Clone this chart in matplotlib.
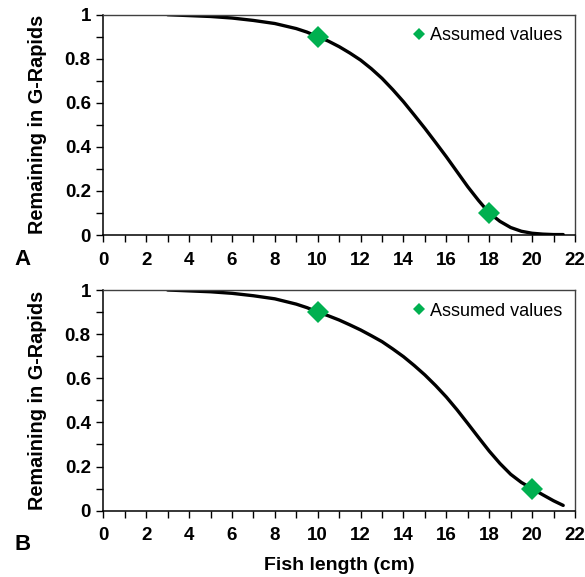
import matplotlib
matplotlib.use("Agg")
import matplotlib.pyplot as plt
from matplotlib.lines import Line2D
from matplotlib.ticker import MultipleLocator

plt.rcParams['font.family'] = ['Liberation Sans', 'DejaVu Sans']

# fitted curves, fish length (cm) vs fraction remaining
length_a = [3, 4, 5, 6, 7, 8, 9, 9.5, 10, 10.5, 11, 11.5, 12, 12.5, 13, 13.5, 14, 14.5,
            15, 15.5, 16, 16.5, 17, 17.5, 18, 18.5, 19, 19.5, 20, 20.5, 21, 21.45]
remain_a = [1.0, 0.996, 0.992, 0.985, 0.974, 0.96, 0.937, 0.921, 0.9, 0.88, 0.855, 0.826,
            0.794, 0.755, 0.711, 0.66, 0.605, 0.545, 0.484, 0.42, 0.355, 0.287, 0.219,
            0.157, 0.1, 0.062, 0.034, 0.017, 0.008, 0.004, 0.002, 0.002]

length_b = [3, 4, 5, 6, 7, 8, 9, 9.5, 10, 10.5, 11, 11.5, 12, 12.5, 13, 13.5, 14, 14.5,
            15, 15.5, 16, 16.5, 17, 17.5, 18, 18.5, 19, 19.5, 20, 20.5, 21, 21.45]
remain_b = [1.0, 0.996, 0.992, 0.985, 0.974, 0.96, 0.936, 0.92, 0.9, 0.883, 0.864, 0.842,
            0.819, 0.793, 0.766, 0.733, 0.698, 0.658, 0.615, 0.567, 0.515, 0.457, 0.395,
            0.332, 0.27, 0.214, 0.165, 0.128, 0.1, 0.072, 0.045, 0.024]

# assumed values for each panel
assumed_x_a = [10, 18]
assumed_y_a = [0.9, 0.1]
assumed_x_b = [10, 20]
assumed_y_b = [0.9, 0.1]

green = '#00b050'

fig = plt.figure(figsize=(5.85, 5.77), dpi=100)
ax_a = fig.add_axes([0.1766, 0.5927, 0.8063, 0.3818])
ax_b = fig.add_axes([0.1766, 0.1149, 0.8063, 0.3825])

panels = [
    (ax_a, length_a, remain_a, assumed_x_a, assumed_y_a),
    (ax_b, length_b, remain_b, assumed_x_b, assumed_y_b),
]

for ax, x, y, ax_x, ax_y in panels:
    ax.plot(x, y, color='black', lw=2.4, solid_capstyle='round',
            solid_joinstyle='round', zorder=2)
    ax.plot(ax_x, ax_y, linestyle='none', marker='D', markersize=11,
            color=green, markeredgewidth=0, zorder=3)
    ax.set_xlim(0, 22)
    ax.set_ylim(0, 1)
    ax.xaxis.set_major_locator(MultipleLocator(2))
    ax.xaxis.set_minor_locator(MultipleLocator(1))
    ax.yaxis.set_minor_locator(MultipleLocator(0.1))
    ax.set_yticks([0, 0.2, 0.4, 0.6, 0.8, 1.0])
    ax.set_yticklabels(['0', '0.2', '0.4', '0.6', '0.8', '1'])
    ax.tick_params(which='both', direction='out', length=5, width=1,
                   top=False, right=False, labelsize=13.5)
    ax.tick_params(axis='x', pad=7)
    ax.tick_params(axis='y', pad=4)
    for lab in ax.get_xticklabels() + ax.get_yticklabels():
        lab.set_fontweight('bold')
    for side in ['left', 'bottom']:
        ax.spines[side].set_color('black')
        ax.spines[side].set_linewidth(1.1)
    for side in ['top', 'right']:
        ax.spines[side].set_color('#404040')
        ax.spines[side].set_linewidth(1.0)
    ax.set_ylabel('Remaining in G-Rapids', fontsize=14.3, fontweight='bold', labelpad=13)
    handle = Line2D([], [], linestyle='none', marker='D', markersize=6,
                    color=green, markeredgewidth=0)
    ax.legend([handle], ['Assumed values'], loc='upper right', frameon=False,
              fontsize=13, handlelength=0.6, handletextpad=0.3,
              borderaxespad=0.3)

ax_b.set_xlabel('Fish length (cm)', fontsize=14, fontweight='bold', labelpad=9)

fig.text(0.024, 0.551, 'A', fontsize=16, fontweight='bold', va='center')
fig.text(0.024, 0.057, 'B', fontsize=16, fontweight='bold', va='center')

fig.savefig('out.png', dpi=100)
